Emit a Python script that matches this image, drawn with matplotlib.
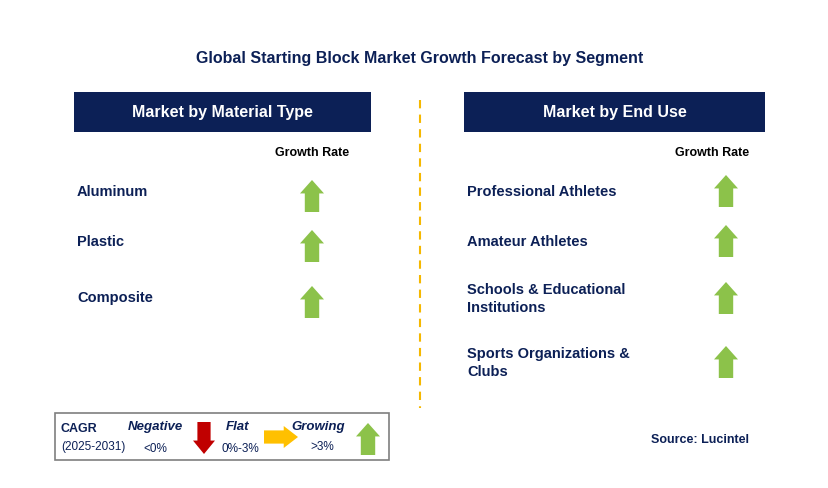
import matplotlib
matplotlib.use("Agg")
import matplotlib.pyplot as plt
from matplotlib.patches import Polygon, Rectangle

plt.rcParams["font.family"] = "Liberation Sans"

title = "Global Starting Block Market Growth Forecast by Segment"
left_header = "Market by Material Type"
right_header = "Market by End Use"
left_cats = ["Aluminum", "Plastic", "Composite"]
left_growth = ["up", "up", "up"]
right_cats = ["Professional Athletes", "Amateur Athletes",
              "Schools & Educational\nInstitutions", "Sports Organizations &\nClubs"]
right_growth = ["up", "up", "up", "up"]
source = "Source: Lucintel"

W, H = 829, 488
fig = plt.figure(figsize=(W/100, H/100), dpi=100)
ax = fig.add_axes([0, 0, 1, 1])
ax.set_xlim(0, W); ax.set_ylim(H, 0); ax.axis("off")
navy = "#0c2056"; txt = "#0c2056"
green = "#8cc24a"; red = "#c00000"; yellow = "#ffc000"

def arrow(cx, cy, d, color, w=24, h=32):
    hw = w/2; sw = w*0.3; hh = h*0.42
    if d == "up":
        pts = [(cx-hw, cy-h/2+hh), (cx, cy-h/2), (cx+hw, cy-h/2+hh), (cx+sw, cy-h/2+hh),
               (cx+sw, cy+h/2), (cx-sw, cy+h/2), (cx-sw, cy-h/2+hh)]
    elif d == "down":
        pts = [(cx-hw, cy+h/2-hh), (cx, cy+h/2), (cx+hw, cy+h/2-hh), (cx+sw, cy+h/2-hh),
               (cx+sw, cy-h/2), (cx-sw, cy-h/2), (cx-sw, cy+h/2-hh)]
    else:
        pts = [(cx+h/2-hh, cy-hw), (cx+h/2, cy), (cx+h/2-hh, cy+hw), (cx+h/2-hh, cy+sw),
               (cx-h/2, cy+sw), (cx-h/2, cy-sw), (cx+h/2-hh, cy-sw)]
    ax.add_patch(Polygon(pts, closed=True, color=color, lw=0))

ax.text(420, 58, title, ha="center", va="center", fontsize=11.5, fontweight="bold", color=txt)
for x0, x1, lab in [(74, 371, left_header), (464, 765, right_header)]:
    ax.add_patch(Rectangle((x0, 92), x1-x0, 40, color=navy, lw=0))
    ax.text((x0+x1)/2, 113, lab, ha="center", va="center", fontsize=11.5, fontweight="bold", color="white")
ax.plot([420, 420], [100, 408], color="#f5b800", lw=1.5, ls=(0, (4, 3)))

ax.text(312, 153, "Growth Rate", ha="center", va="center", fontsize=9, fontweight="bold", color="black")
ax.text(712, 153, "Growth Rate", ha="center", va="center", fontsize=9, fontweight="bold", color="black")

for c, g, y in zip(left_cats, left_growth, [192, 242, 298]):
    ax.text(77, y, c, ha="left", va="center", fontsize=10.5, fontweight="bold", color=txt)
    arrow(312, y+4, g, green)
for c, g, y in zip(right_cats, right_growth, [192, 242, 299, 363]):
    ax.text(467, y, c, ha="left", va="center", fontsize=10.5, fontweight="bold", color=txt, linespacing=1.45)
    arrow(726, y-1, g, green)

ax.add_patch(Rectangle((55, 413), 334, 47, fill=False, ec="#7f7f7f", lw=1.2))
ax.text(61, 429, "CAGR", fontsize=9, fontweight="bold", color=txt, va="center")
ax.text(61, 447, "(2025-2031)", fontsize=8.5, color=txt, va="center")
ax.text(155, 427, "Negative", fontsize=9.5, fontweight="bold", style="italic", color=txt, ha="center", va="center")
ax.text(155, 449, "<0%", fontsize=8.5, color=txt, ha="center", va="center")
arrow(204, 438, "down", red, w=22, h=32)
ax.text(238, 427, "Flat", fontsize=9.5, fontweight="bold", style="italic", color=txt, ha="center", va="center")
ax.text(240, 449, "0%-3%", fontsize=8.5, color=txt, ha="center", va="center")
arrow(281, 437, "right", yellow, w=22, h=34)
ax.text(318, 427, "Growing", fontsize=9.5, fontweight="bold", style="italic", color=txt, ha="center", va="center")
ax.text(322, 447, ">3%", fontsize=8.5, color=txt, ha="center", va="center")
arrow(368, 439, "up", green, w=24, h=32)

ax.text(700, 440, source, fontsize=9, fontweight="bold", color=txt, ha="center", va="center")
fig.savefig("out.png", dpi=100)
